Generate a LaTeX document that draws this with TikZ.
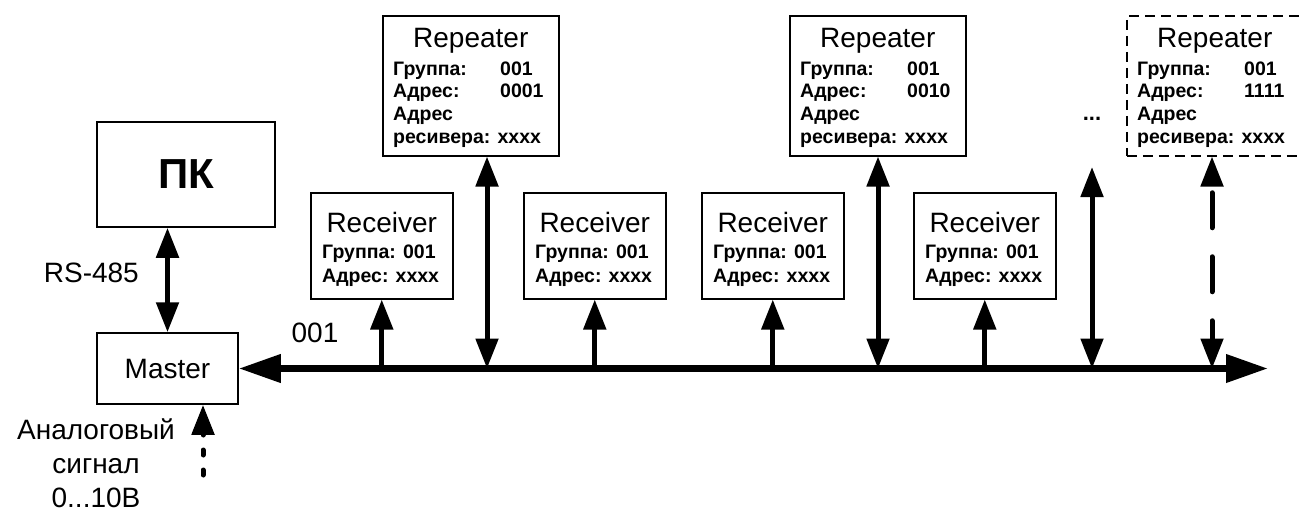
\documentclass[tikz,border=0pt]{standalone}
\usepackage{fontspec}
\setmainfont{Liberation Sans}
\usetikzlibrary{arrows.meta, positioning, calc}
\newcommand{\regfont}{\fontsize{28}{34}\selectfont}
\newcommand{\fieldfont}{\bfseries\fontsize{19.5}{22.6}\selectfont}
\newcommand{\fld}[1]{\makebox[107pt][l]{#1}}
\tikzset{
  unitbox/.style={draw, line width=1.5pt, inner sep=0pt},
  repbox/.style={unitbox, anchor=north west, minimum width=176pt, minimum height=140pt},
  recbox/.style={unitbox, anchor=north west, minimum width=142pt, minimum height=106pt},
  ghost/.style={dash pattern=on 10pt off 6pt},
  solidbox/.style={},
  title/.style={font=\regfont, anchor=base, inner sep=0pt},
  fields/.style={font=\fieldfont, align=left, anchor=north west, inner sep=0pt},
  link/.style={line width=5pt, {Triangle[length=30pt,width=22pt]}-{Triangle[length=30pt,width=22pt]}},
  uplink/.style={line width=5pt, -{Triangle[length=30pt,width=22pt]}},
  bus/.style={line width=7pt, {Triangle[length=42pt,width=27pt]}-{Triangle[length=42pt,width=27pt]}},
}

\begin{document}
\begin{tikzpicture}[x=1pt, y=-1pt]
  \useasboundingbox (0,0) rectangle (1300,514);
  % host side
  \node[unitbox, minimum width=178pt, minimum height=105pt, font=\bfseries\fontsize{42}{42}\selectfont] (pc) at (186,174.5) {ПК};
  \node[unitbox, minimum width=141pt, minimum height=71pt, font=\regfont] (master) at (167.5,368.5) {Master};
  \draw[link] (master.north |- pc.south) -- (master.north);
  \node[font=\regfont, anchor=east, inner sep=0pt] (rs) at (139,273) {RS-485};
  % analog input
  \coordinate (ain) at (203,475);
  \draw[uplink, line cap=round, dash pattern=on 5pt off 15pt] (ain) -- (ain |- master.south);
  \node[font=\regfont, align=center, anchor=north, inner sep=0pt] (analog) at (96,419) {Аналоговый\\сигнал\\0...10В};
  % bus line
  \coordinate (busend) at (1268,368.5);
  \draw[bus] (master.east) -- (busend);
  \node[font=\regfont, inner sep=0pt] (grp) at (315,333) {001};
  % receivers
  \foreach \n/\x in {r1/310, r2/523, r3/701, r4/913} {
    \node[recbox] (\n) at (\x,192) {};
    \node[title] (\n-t) at ($(\n.north)+(0,40)$) {Receiver};
    \node[fields, font=\bfseries\fontsize{19.5}{23.7}\selectfont] (\n-f) at ($(\n.north west)+(12,53)$) {Группа: 001\\Адрес: xxxx};
    \draw[uplink] (\n.south |- busend) -- (\n.south);
  }
  % repeaters
  \foreach \n/\x/\a/\t/\s in {p1/382/0001/487/solidbox, p2/789/0010/878/solidbox, p3/1126/1111/1212/ghost} {
    \node[repbox, \s] (\n) at (\x,15) {};
    \node[title] (\n-t) at ($(\n.north)+(0,32)$) {Repeater};
    \node[fields] (\n-f) at ($(\n.north west)+(11,46.5)$) {\fld{Группа:}001\\\fld{Адрес:}\a\\Адрес\\ресивера: xxxx};
    \coordinate (\n-tap) at (\t,368.5);
  }
  \draw[link] (p1-tap) -- (p1-tap |- p1.south);
  \draw[link] (p2-tap) -- (p2-tap |- p2.south);
  \draw[link, line cap=round, dash pattern=on 35pt off 29pt, dash phase=16pt] (p3-tap) -- (p3-tap |- p3.south);
  % more repeaters
  \coordinate (more-tap) at (1092,368.5);
  \coordinate (more-top) at (1092,167);
  \draw[link] (more-tap) -- (more-top);
  \node[font=\bfseries\fontsize{22}{22}\selectfont, anchor=base, inner sep=0pt] (dots) at (1092,120) {...};
\end{tikzpicture}
\end{document}
